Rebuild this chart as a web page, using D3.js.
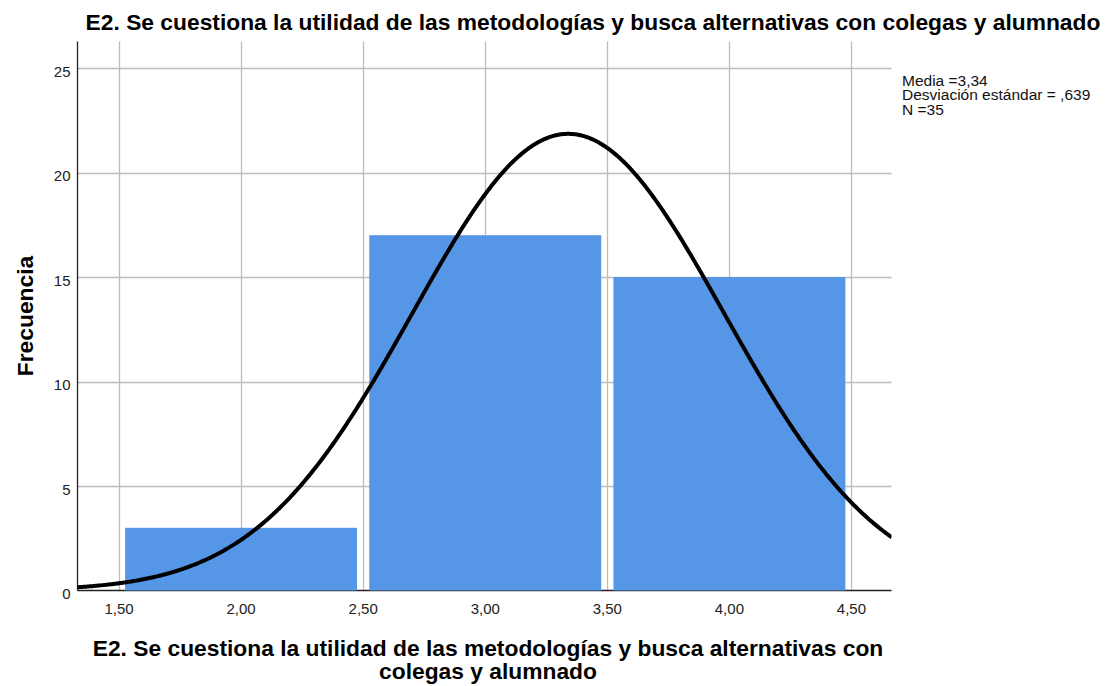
<!DOCTYPE html>
<html>
<head>
<meta charset="utf-8">
<script src="https://cdn.jsdelivr.net/npm/d3@7"></script>
<style>
  html, body { margin: 0; padding: 0; background: #fff; }
  svg { display: block; font-family: "Liberation Sans", Arial, sans-serif; }
</style>
</head>
<body>
<svg id="chart" width="1107" height="686"></svg>
<script>
// Histogram bins (lower / upper bound) and frequencies
const binLower = [1.5, 2.5, 3.5];
const binUpper = [2.5, 3.5, 4.5];
const counts = [3, 17, 15];

// Summary statistics shown in the legend and used for the normal curve
const mean = 3.34;
const stdDev = 0.639;
const nCases = 35;

const xTicks = [1.5, 2.0, 2.5, 3.0, 3.5, 4.0, 4.5];
const yTicks = [0, 5, 10, 15, 20, 25];

const titleText = "E2. Se cuestiona la utilidad de las metodologías y busca alternativas con colegas y alumnado";
const xTitleLines = ["E2. Se cuestiona la utilidad de las metodologías y busca alternativas con", "colegas y alumnado"];
const yTitle = "Frecuencia";
const legendLines = ["Media =3,34", "Desviación estándar = ,639", "N =35"];

const svg = d3.select("#chart");
const plot = { left: 77.5, right: 891.5, top: 41.5, bottom: 590.5 };

const x = d3.scaleLinear().domain([1.33, 4.664]).range([plot.left, plot.right]);
const y = d3.scaleLinear().domain([0, 26.27]).range([plot.bottom, plot.top]);

const fmt = v => d3.format(".2f")(v).replace(".", ",");

// Clip path for the plot region
svg.append("defs").append("clipPath").attr("id", "plotClip")
  .append("rect")
  .attr("x", plot.left).attr("y", plot.top)
  .attr("width", plot.right - plot.left).attr("height", plot.bottom - plot.top);

// Gridlines
const grid = svg.append("g");
grid.selectAll("line.h").data(yTicks.filter(d => d > 0)).join("line")
  .attr("x1", plot.left).attr("x2", plot.right)
  .attr("y1", d => Math.round(y(d)) + 0.5).attr("y2", d => Math.round(y(d)) + 0.5)
  .attr("stroke", "#bdbdbd").attr("stroke-width", 1.3);
grid.selectAll("line.v").data(xTicks).join("line")
  .attr("x1", d => Math.round(x(d)) + 0.5).attr("x2", d => Math.round(x(d)) + 0.5)
  .attr("y1", plot.top).attr("y2", plot.bottom)
  .attr("stroke", "#bdbdbd").attr("stroke-width", 1.3);

// Bottom axis line
svg.append("line")
  .attr("x1", plot.left).attr("x2", plot.right)
  .attr("y1", plot.bottom).attr("y2", plot.bottom)
  .attr("stroke", "#222").attr("stroke-width", 1.3);

// Bars (inset slightly from the bin boundaries)
const inset = 0.025;
svg.append("g").selectAll("rect").data(counts).join("rect")
  .attr("x", (d, i) => x(binLower[i] + inset))
  .attr("width", (d, i) => x(binUpper[i] - inset) - x(binLower[i] + inset))
  .attr("y", d => y(d))
  .attr("height", d => y(0) - y(d))
  .attr("fill", "#5596e6");

// Left axis line
svg.append("line")
  .attr("x1", plot.left).attr("x2", plot.left)
  .attr("y1", plot.top).attr("y2", plot.bottom)
  .attr("stroke", "#222").attr("stroke-width", 1.3);

// Fitted normal curve scaled to frequencies (N * bin width * density)
const binWidth = binUpper[0] - binLower[0];
const density = v => Math.exp(-0.5 * Math.pow((v - mean) / stdDev, 2)) / (stdDev * Math.sqrt(2 * Math.PI));
const curvePts = d3.range(x.domain()[0], x.domain()[1] + 0.005, 0.005)
  .map(v => [v, nCases * binWidth * density(v)]);
svg.append("path")
  .datum(curvePts)
  .attr("clip-path", "url(#plotClip)")
  .attr("fill", "none")
  .attr("stroke", "#000")
  .attr("stroke-width", 4)
  .attr("d", d3.line().x(d => x(d[0])).y(d => y(d[1])));

// Tick labels
svg.append("g").selectAll("text").data(yTicks).join("text")
  .attr("x", plot.left - 7).attr("y", d => y(d) + 8.5)
  .attr("text-anchor", "end").attr("font-size", 15).attr("fill", "#222")
  .text(d => d);
svg.append("g").selectAll("text").data(xTicks).join("text")
  .attr("x", d => x(d)).attr("y", plot.bottom + 23.5)
  .attr("text-anchor", "middle").attr("font-size", 15).attr("fill", "#222")
  .text(fmt);

// Title
svg.append("text")
  .attr("x", 593).attr("y", 30)
  .attr("text-anchor", "middle").attr("font-size", 22.8).attr("font-weight", "bold")
  .text(titleText);

// Axis titles
svg.append("text")
  .attr("transform", `translate(33, 316) rotate(-90)`)
  .attr("text-anchor", "middle").attr("font-size", 22.8).attr("font-weight", "bold")
  .text(yTitle);
svg.append("g").selectAll("text").data(xTitleLines).join("text")
  .attr("x", 488).attr("y", (d, i) => 656 + i * 23)
  .attr("text-anchor", "middle").attr("font-size", 22.8).attr("font-weight", "bold")
  .text(d => d);

// Legend with summary statistics
svg.append("g").selectAll("text").data(legendLines).join("text")
  .attr("x", 902).attr("y", (d, i) => 85.5 + i * 14.8)
  .attr("font-size", 15.5).attr("fill", "#111")
  .text(d => d);
</script>
</body>
</html>
